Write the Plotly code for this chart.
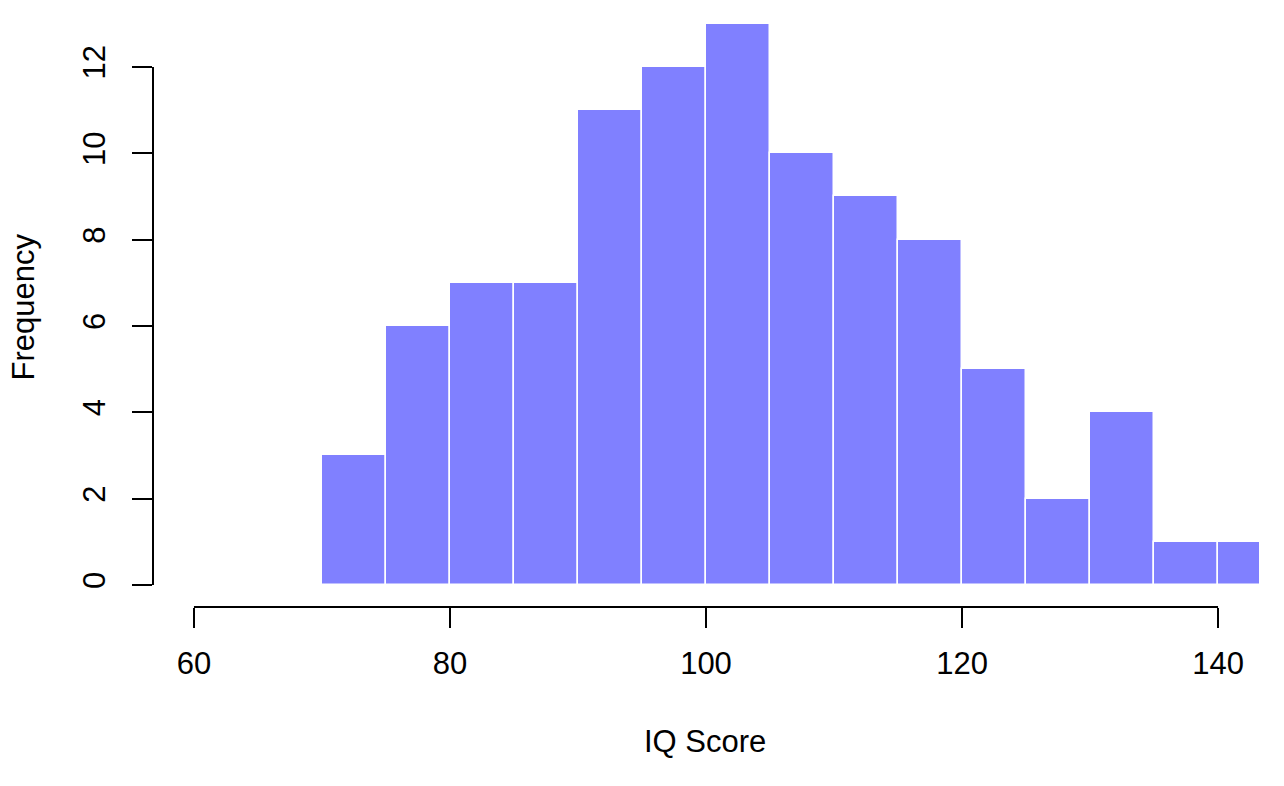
import plotly.graph_objects as go

# Data (bin width 5)
bin_starts = [70, 75, 80, 85, 90, 95, 100, 105, 110, 115, 120, 125, 130, 135, 140]
counts = [3, 6, 7, 7, 11, 12, 13, 10, 9, 8, 5, 2, 4, 1, 1]
bin_width = 5
x_ticks = [60, 80, 100, 120, 140]
y_ticks = [0, 2, 4, 6, 8, 10, 12]
x_title = "IQ Score"
y_title = "Frequency"

mids = [s + bin_width / 2 for s in bin_starts]

FONT = "Liberation Sans, Arial, Helvetica, sans-serif"
FS = 31

# page is offset by the 8px body margin; plot area in figure coords
L, R, T, B = 145, 1251, 0, 599
W, H = 1284, 786

fig = go.Figure()
fig.add_trace(go.Bar(
    x=mids, y=counts, width=[bin_width] * len(mids),
    marker=dict(color="#8080FF", line=dict(color="white", width=1.5)),
    hoverinfo="x+y", showlegend=False,
))

fig.update_layout(
    width=W, height=H,
    margin=dict(l=L, r=W - R, t=T, b=H - B, pad=0),
    plot_bgcolor="white", paper_bgcolor="white",
    font=dict(family=FONT, size=FS, color="black"),
    bargap=0,
    xaxis=dict(
        range=[56.8, 143.2], showgrid=False, zeroline=False, showline=False,
        tickmode="array", tickvals=x_ticks, ticktext=[str(v) for v in x_ticks],
        ticks="outside", ticklen=20, tickwidth=2, tickcolor="black",
        ticklabelstandoff=9,
        tickfont=dict(family=FONT, size=FS, color="black"),
    ),
    yaxis=dict(
        range=[-0.5096, 13.366], showgrid=False, zeroline=False, showline=False,
        tickmode="array", tickvals=y_ticks, ticktext=[str(v) for v in y_ticks],
        ticks="outside", ticklen=20, tickwidth=2, tickcolor="black",
        tickangle=-90, ticklabelstandoff=15,
        tickfont=dict(family=FONT, size=FS, color="black"),
    ),
    shapes=[
        dict(type="line", xref="x", yref="paper", x0=x_ticks[0], x1=x_ticks[-1], y0=0, y1=0,
             line=dict(color="black", width=2)),
        dict(type="line", xref="paper", yref="y", x0=0, x1=0, y0=y_ticks[0], y1=y_ticks[-1],
             line=dict(color="black", width=2)),
    ],
    annotations=[
        dict(text=x_title, xref="paper", yref="paper",
             x=(697 - L) / (R - L), y=(B - 733) / (B - T),
             xanchor="center", yanchor="middle", showarrow=False,
             font=dict(family=FONT, size=FS, color="black")),
        dict(text=y_title, xref="paper", yref="paper",
             x=(15 - L) / (R - L), y=(B - 299.5) / (B - T),
             xanchor="center", yanchor="middle", textangle=-90, showarrow=False,
             font=dict(family=FONT, size=FS, color="black")),
    ],
)

fig.write_html("out.html")
